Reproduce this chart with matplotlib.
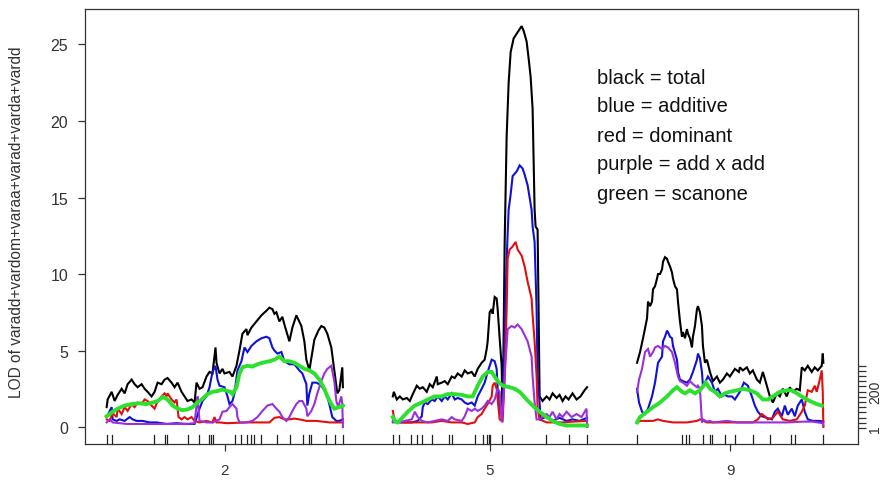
import matplotlib
matplotlib.use('Agg')
import matplotlib.pyplot as plt

plt.rcParams['font.family'] = ['Liberation Sans', 'DejaVu Sans']

# ---------------- data ----------------
chrom_names = ['2', '5', '9']
chrom_len = [118.3, 97.3, 93.3]
gap = 25.0

markers_2 = [0, 2.8, 23.6, 29.2, 30, 40.5, 46.2, 51.3, 52.2, 53.3, 64.2, 67.2, 70.5,
             72.5, 73.7, 77.2, 85.5, 91.7, 98.3, 101.3, 102.5, 110, 114.2, 118.3]
markers_5 = [0, 3.3, 9, 12, 14.8, 19.5, 28.2, 29.8, 41.2, 45.3, 47.3, 48.2, 48.7,
             54.8, 76.5, 88.2, 97.3]
markers_9 = [0, 22.5, 24.5, 25.8, 33, 36.3, 37.5, 43.8, 49.2, 58.3, 66.7, 77.2, 79.2, 93.3]

# chromosome 2  (position cM, LOD)
c2_total = [(0, 1.3), (0.5, 1.8), (2.5, 2.3), (4, 1.7), (5.5, 2.1), (7.5, 2.5), (9, 2.2), (10.5, 2.8),
            (12.5, 3.1), (14, 2.8), (15.5, 2.6), (17.5, 2.8), (19, 2.5), (20.5, 2.3), (22.5, 2.0),
            (24, 2.3), (25.5, 2.9), (27.5, 2.8), (29, 3.1), (30.5, 3.2), (32.5, 2.9), (34, 2.6),
            (35.5, 2.9), (37.5, 2.3), (39, 2.0), (40.5, 1.7), (42.5, 1.8), (44, 1.6), (45, 2.9),
            (46.5, 2.5), (48, 2.6), (50, 3.3), (51.5, 3.6), (53, 3.5), (54.5, 5.2), (55, 4.2),
            (56.5, 3.5), (58, 3.8), (59, 3.5), (61.5, 3.6), (63, 3.3), (65, 4.0), (66.5, 5.0),
            (68, 6.1), (70, 6.4), (70.5, 6.0), (72.5, 6.5), (75, 6.9), (77.5, 7.3), (80, 7.6),
            (81.5, 7.8), (83, 7.7), (84, 7.4), (85, 7.5), (86.5, 6.9), (88, 7.2), (89, 6.7),
            (91.5, 5.6), (93, 6.5), (95, 7.3), (97.5, 6.6), (99, 5.6), (100, 4.4), (101.5, 3.7),
            (104, 5.7), (106, 6.3), (107.5, 6.6), (109, 6.5), (110.5, 6.1), (112.5, 5.2),
            (114, 3.7), (115.5, 2.2), (116.5, 2.4), (118, 3.9), (118.3, 2.6)]
c2_add = [(0, 0.65), (2.5, 1.3), (3, 0.5), (5, 0.4), (6.5, 0.5), (9, 0.4), (11.5, 0.65), (13, 0.5),
          (15, 0.4), (18, 0.4), (21.5, 0.3), (25, 0.3), (30, 0.2), (35, 0.25), (40, 0.2), (44, 0.2),
          (46.5, 1.2), (48, 1.7), (50, 2.0), (51.5, 2.6), (53, 3.6), (54.5, 4.0), (55.5, 3.1),
          (56.5, 2.7), (59, 2.6), (60.5, 2.0), (61.5, 1.5), (63, 1.7), (64, 2.2), (65.5, 3.7),
          (67.5, 4.3), (69, 5.2), (70.5, 4.9), (72.5, 5.3), (75, 5.6), (77.5, 5.8), (80, 5.9),
          (81.5, 5.8), (83, 5.2), (84, 5.0), (85.5, 4.8), (87.5, 4.9), (89, 4.3), (91.5, 4.1),
          (94, 4.1), (96.5, 3.7), (98, 3.5), (100, 2.8), (100.5, 1.4), (101.5, 2.2), (103, 2.9),
          (105, 2.9), (106.5, 2.8), (108, 2.6), (110, 2.2), (111.5, 1.5), (113, 0.65), (115, 0.4),
          (116.5, 0.4), (118.3, 0.5)]
c2_dom = [(0, 0.5), (1.5, 0.4), (3, 0.9), (5, 0.65), (5.5, 1.2), (7.5, 0.85), (9, 1.3), (10.5, 1.05),
          (12.5, 1.5), (14, 1.3), (15.5, 1.6), (17.5, 1.5), (19, 1.8), (20.5, 1.7), (22.5, 1.4),
          (24, 1.2), (25.5, 1.7), (27.5, 2.0), (29, 2.2), (30, 2.0), (30.5, 2.2), (32.5, 1.8),
          (34, 1.6), (35, 1.8), (36, 0.65), (37.5, 0.5), (39, 0.65), (40.5, 0.5), (42.5, 0.65),
          (44, 0.4), (46.5, 0.3), (50, 0.4), (53, 0.3), (54, 0.65), (55, 0.3), (56.5, 0.3),
          (60, 0.25), (70, 0.3), (81.5, 0.3), (84, 0.6), (86.5, 0.65), (89, 0.5), (91.5, 0.5),
          (94, 0.55), (96.5, 0.5), (100, 0.4), (105, 0.4), (111.5, 0.3), (118.3, 0.3)]
c2_aa = [(0, 0.3), (1.5, 0.5), (3, 0.3), (10, 0.2), (20, 0.2), (30, 0.2), (40, 0.2), (44, 0.25),
         (45, 1.4), (45.5, 2.0), (46.5, 0.4), (50, 0.3), (53, 0.3), (56.5, 0.5), (58, 1.0),
         (60, 1.05), (61.5, 1.3), (63, 1.5), (65, 1.2), (65.5, 0.65), (66.5, 0.3), (70, 0.3),
         (73, 0.4), (75.5, 0.65), (78, 1.05), (80.5, 1.4), (83, 1.5), (85, 1.2), (86.5, 1.0),
         (88, 0.65), (90, 0.4), (91.5, 0.65), (93, 1.05), (95, 1.5), (96.5, 1.7), (98, 1.7),
         (100, 1.2), (100.5, 0.7), (102.5, 1.05), (104, 1.5), (105.5, 2.2), (107.5, 3.0),
         (109, 3.5), (110.5, 3.8), (112.5, 4.0), (114, 3.0), (115, 1.7), (116, 1.3), (117.5, 2.0),
         (118, 1.5), (118.3, 0.0)]
c2_scan = [(0, 0.7), (3, 1.0), (5.5, 1.2), (9, 1.4), (12.5, 1.5), (16.5, 1.55), (20, 1.5), (23, 1.6),
           (25.5, 1.7), (28, 1.95), (30, 1.85), (31.5, 1.65), (33, 1.4), (35.5, 1.2), (38, 1.1),
           (40.5, 1.15), (43, 1.3), (45.5, 1.6), (48, 1.85), (50.5, 2.15), (53, 2.3), (55.5, 2.35),
           (58, 2.45), (60.5, 2.35), (62, 2.3), (63, 2.15), (65, 2.6), (66.5, 3.5), (68, 3.9),
           (70.5, 4.0), (73, 3.95), (75.5, 4.1), (78, 4.2), (81.5, 4.3), (84, 4.4), (86.5, 4.6),
           (89, 4.3), (91.5, 4.3), (94, 4.2), (96.5, 4.0), (99, 3.8), (101.5, 3.7), (104, 3.5),
           (106.5, 3.1), (109, 2.5), (110.5, 2.0), (112.5, 1.5), (114, 1.2), (116.5, 1.3), (118.3, 1.4)]

# chromosome 5
c5_total = [(0, 2.0), (0.5, 2.3), (2, 1.8), (3.5, 2.0), (5, 1.8), (7, 1.9), (8.5, 1.7), (10, 2.15),
            (12, 2.7), (13.5, 2.5), (15, 2.6), (17, 2.3), (18.5, 2.8), (20, 2.6), (22, 3.3),
            (22.5, 2.8), (24.5, 2.9), (26, 3.0), (27.5, 2.8), (29.5, 3.3), (31, 3.2), (32.5, 3.5),
            (34.5, 3.3), (36, 3.7), (37.5, 3.5), (39.5, 3.6), (41, 3.3), (42.5, 3.8), (44.5, 4.2),
            (46, 4.4), (47, 5.1), (47.5, 5.6), (48.5, 7.5), (49.5, 7.7), (50, 7.4), (51, 8.5),
            (52, 8.4), (52.5, 7.7), (53.5, 5.8), (54.5, 4.0), (55, 1.0), (55.5, 6.0), (56, 12.0),
            (57, 19.0), (58, 22.5), (59, 24.5), (60.5, 25.4), (62, 25.7), (63.5, 26.0), (64.5, 26.2),
            (65.5, 25.9), (67, 25.2), (68, 24.1), (69, 22.9), (70, 20.8), (70.5, 17.5), (71, 14.2),
            (71.5, 13.1), (72.5, 12.9), (73, 7.7), (73.5, 2.0), (75, 1.7), (77, 2.0), (78.5, 1.8),
            (80, 2.2), (82, 1.9), (83.5, 2.1), (85, 1.7), (86.5, 2.0), (88, 1.8), (90, 2.2),
            (92, 1.8), (94, 2.0), (96, 2.4), (97.3, 2.6)]
c5_add = [(0, 0.4), (2.5, 0.3), (6, 0.3), (9.5, 0.3), (12.5, 0.4), (14.5, 0.7), (15, 1.3), (16, 1.6),
          (17.5, 1.5), (19.5, 1.8), (21, 1.7), (22.5, 2.0), (24.5, 1.7), (26, 2.0), (27.5, 1.8),
          (29.5, 2.2), (31, 1.8), (32.5, 1.9), (34.5, 1.8), (36, 1.6), (37.5, 1.5), (39.5, 1.6),
          (41, 1.4), (42.5, 2.0), (44.5, 2.5), (46, 2.9), (47.5, 3.6), (49.5, 4.4), (51, 4.3),
          (52, 3.8), (52.5, 2.5), (53.5, 1.0), (55, 1.0), (56, 6.4), (57, 11.0), (58, 14.2),
          (59, 15.2), (60, 16.4), (62, 16.7), (63.5, 17.1), (65, 16.9), (66, 16.5), (67.5, 15.8),
          (69.5, 14.2), (70, 13.1), (71, 12.1), (72, 7.7), (72.5, 3.3), (73.5, 1.6), (74, 0.5),
          (77, 0.7), (80, 0.4), (83.5, 0.6), (87, 0.4), (90, 0.5), (93.5, 0.4), (97.3, 0.6)]
c5_dom = [(0, 1.05), (0.5, 0.7), (1, 0.4), (4.5, 0.3), (9.5, 0.3), (14.5, 0.3), (19.5, 0.3),
          (24.5, 0.4), (29.5, 0.3), (34.5, 0.3), (37.5, 0.2), (41, 0.3), (42.5, 0.65), (44.5, 0.85),
          (46, 1.2), (47.5, 1.5), (49.5, 2.0), (50, 2.7), (51, 2.9), (52, 2.5), (52.5, 1.8),
          (53.5, 0.5), (55, 0.4), (56, 3.3), (57, 7.7), (57.5, 11.0), (58.5, 11.6), (60, 11.8),
          (61.5, 12.1), (62.5, 11.6), (64.5, 11.2), (66, 10.5), (67.5, 9.5), (69.5, 8.4), (70, 7.3),
          (71, 5.6), (72, 3.3), (72.5, 1.2), (73.5, 0.5), (77, 0.3), (85, 0.3), (90, 0.35), (97.3, 0.4)]
c5_aa = [(0, 0.3), (2.5, 0.3), (6, 0.4), (9.5, 0.5), (11, 1.0), (12.5, 0.65), (14.5, 0.4), (17.5, 0.3),
         (21, 0.4), (24.5, 0.5), (27.5, 0.4), (29.5, 0.65), (31, 0.5), (34.5, 0.4), (36, 0.7),
         (37.5, 1.2), (39.5, 1.05), (41, 1.2), (42.5, 1.05), (44.5, 1.2), (46, 1.4), (47.5, 1.7),
         (49.5, 1.5), (51, 1.8), (52.5, 2.5), (53.5, 2.3), (54.5, 0.3), (55.5, 2.0), (56.5, 4.4),
         (57.5, 6.4), (59.5, 6.6), (61, 6.5), (62.5, 6.7), (64.5, 6.4), (66, 6.0), (67.5, 5.6),
         (69.5, 4.6), (70, 3.3), (71, 1.6), (72, 0.5), (73.5, 0.5), (77, 0.85), (78.5, 0.65),
         (80, 1.0), (82, 0.5), (83.5, 0.85), (85, 0.65), (87, 1.0), (89.5, 0.65), (92, 0.85),
         (94.5, 0.65), (97, 1.2), (97.3, 0.0)]
c5_scan = [(0, 0.65), (1, 0.4), (2.5, 0.3), (5, 0.65), (7.5, 1.0), (11, 1.4), (14.5, 1.6), (17.5, 1.8),
           (21, 2.0), (24.5, 2.0), (27.5, 2.15), (31, 2.15), (34.5, 2.1), (37.5, 2.0), (40, 2.0),
           (42.5, 2.7), (45, 3.3), (47.5, 3.6), (49.5, 3.6), (51, 3.3), (52.5, 3.0), (55, 2.7),
           (58.5, 2.6), (61, 2.5), (63.5, 2.3), (67, 1.8), (70, 1.4), (73.5, 1.0), (77, 0.65),
           (80, 0.4), (83.5, 0.2), (87, 0.1), (92, 0.1), (97.3, 0.1)]

# chromosome 9
c9_total = [(0, 4.2), (1.5, 4.9), (3, 5.8), (5, 7.1), (5.5, 8.2), (6.5, 7.9), (7.5, 8.2), (8, 9.0),
            (9, 9.2), (10, 9.7), (10.5, 10.0), (11.5, 10.0), (12.5, 10.3), (13, 10.8), (14, 11.1),
            (15, 11.0), (15.5, 10.8), (16.5, 10.5), (17.5, 10.1), (18, 9.7), (19, 9.2), (20, 9.0),
            (20.5, 8.2), (21.5, 6.9), (22.5, 5.9), (23, 6.2), (24, 5.8), (25, 6.4), (25.5, 6.1),
            (26.5, 5.8), (27.5, 5.2), (28, 5.9), (29, 6.6), (30, 7.7), (30.5, 7.9), (31.5, 7.5),
            (32.5, 6.6), (33, 5.3), (34, 4.2), (35, 4.4), (36.5, 3.6), (38, 3.0), (40, 3.3),
            (41.5, 2.9), (43, 3.1), (45, 3.5), (46.5, 3.3), (48, 3.6), (49, 3.8), (51, 3.6),
            (51.5, 3.9), (53, 3.7), (55, 3.9), (56.5, 3.5), (58, 3.7), (60, 3.1), (61.5, 2.9),
            (63, 3.6), (65, 2.7), (66.5, 2.0), (68, 1.6), (70, 2.2), (71.5, 2.0), (73, 2.5),
            (75, 2.0), (76.5, 2.6), (78, 2.3), (80, 2.5), (81.5, 2.4), (82.5, 3.9), (84, 3.7),
            (85.5, 4.0), (87.5, 3.6), (89, 3.9), (90.5, 3.7), (92.5, 4.0), (93, 4.8), (93.3, 4.2)]
c9_add = [(0, 2.5), (1, 1.6), (2.5, 1.0), (4, 0.85), (5.5, 1.2), (7.5, 2.0), (9, 2.9), (10.5, 4.2),
          (12.5, 4.6), (13, 5.6), (14, 5.9), (15, 6.3), (15.5, 6.2), (16.5, 5.9), (17.5, 5.8),
          (18, 5.3), (20, 4.4), (20.5, 3.6), (21.5, 3.1), (23, 3.0), (25, 2.9), (26.5, 3.1),
          (28, 3.6), (30, 4.4), (30.5, 4.8), (31.5, 4.5), (32.5, 3.6), (33, 2.7), (34, 2.9),
          (35.5, 3.3), (37.5, 2.9), (39, 2.3), (40.5, 2.5), (42.5, 2.0), (44, 2.1), (45.5, 2.0),
          (47.5, 2.0), (49, 1.8), (51.5, 2.3), (53.5, 2.9), (55.5, 2.7), (57.5, 2.0), (59, 1.4),
          (60.5, 1.0), (62.5, 0.7), (65, 0.6), (67.5, 0.5), (69, 1.0), (70.5, 1.2), (72.5, 0.7),
          (74, 1.4), (75.5, 0.8), (77.5, 1.2), (79, 0.7), (80.5, 1.4), (82.5, 1.8), (84, 1.0),
          (85.5, 0.5), (88, 0.4), (91.5, 0.4), (93.3, 0.35)]
c9_dom = [(0, 0.3), (1.5, 0.4), (5, 0.4), (8, 0.4), (10.5, 0.5), (13, 0.4), (18, 0.3), (25, 0.3),
          (30, 0.4), (31.5, 0.5), (35, 0.3), (41.5, 0.3), (50, 0.3), (58, 0.3), (60.5, 0.5),
          (62.5, 0.85), (64, 0.7), (65.5, 0.5), (68, 0.6), (70.5, 1.0), (73, 0.5), (76.5, 0.4),
          (80, 0.5), (82.5, 1.0), (84, 1.4), (85.5, 2.4), (87.5, 2.3), (89, 2.7), (90, 2.3),
          (91.5, 3.1), (92.5, 3.7), (93, 2.3), (93.3, 0.0)]
c9_aa = [(0, 2.3), (1, 3.1), (2.5, 3.8), (4, 4.9), (5.5, 5.1), (6.5, 4.6), (8, 4.9), (9, 5.2),
         (10.5, 5.3), (12.5, 5.1), (14, 5.3), (15.5, 5.2), (17.5, 4.9), (19, 4.2), (20.5, 3.3),
         (21.5, 3.0), (23, 2.9), (25, 2.7), (26.5, 3.0), (28, 2.8), (30, 2.6), (30.5, 2.7),
         (31.5, 2.5), (32.5, 0.3), (33, 0.5), (35, 0.35), (36.5, 0.4), (38, 0.3), (45, 0.4),
         (50, 0.3), (58, 0.3), (66.5, 0.3), (75, 0.3), (83, 0.35), (88, 0.35), (93, 0.25), (93.3, 0.1)]
c9_scan = [(0, 0.3), (1.5, 0.65), (5, 1.0), (8, 1.3), (11.5, 1.6), (15, 2.0), (18, 2.4), (20, 2.6),
           (22.5, 2.3), (24, 2.2), (26.5, 2.4), (29, 2.2), (31.5, 2.4), (34.5, 2.9), (36.5, 2.5),
           (39, 2.3), (41.5, 2.0), (44, 2.2), (46.5, 2.3), (50, 2.4), (53, 2.5), (56.5, 2.4),
           (60, 2.2), (63, 1.8), (65.5, 1.8), (68, 2.0), (71.5, 2.3), (75, 2.4), (77.5, 2.4),
           (80, 2.2), (83, 1.95), (86.5, 1.7), (90, 1.5), (92.5, 1.4)]

legend_lines = ['black = total', 'blue = additive', 'red = dominant',
                'purple = add x add', 'green = scanone']
right_labels = ['1', '200']

# ---------------- plot ----------------
W, H = 886, 481
fig = plt.figure(figsize=(W / 100, H / 100), dpi=100)
L, R, T, B = 85, 858, 10, 445
ax = fig.add_axes([L / W, 1 - B / H, (R - L) / W, (B - T) / H])

offsets = []
acc = 0.0
for ln in chrom_len:
    offsets.append(acc)
    acc += ln + gap

series = [
    ([c2_total, c5_total, c9_total], '#000000', 1.5),
    ([c2_add, c5_add, c9_add], '#1010d8', 1.5),
    ([c2_dom, c5_dom, c9_dom], '#e01010', 1.5),
    ([c2_aa, c5_aa, c9_aa], '#9a30dc', 1.5),
    ([c2_scan, c5_scan, c9_scan], '#2ee02e', 2.8),
]
for per_chr, col, lw in series:
    for off, pts in zip(offsets, per_chr):
        xs = [off + p[0] for p in pts]
        ys = [p[1] for p in pts]
        ax.plot(xs, ys, color=col, lw=lw, solid_joinstyle='miter')

# marker rug
trans = ax.get_xaxis_transform()
for off, mk in zip(offsets, [markers_2, markers_5, markers_9]):
    for m in mk:
        ax.plot([off + m, off + m], [0.0, 0.021], color='#222222', lw=0.9, transform=trans,
                clip_on=False)

ax.set_xlim(-10.85, offsets[2] + chrom_len[2] + 17.35)
ax.set_ylim(-1.11, 27.32)

centers = [off + ln / 2 for off, ln in zip(offsets, chrom_len)]
ax.set_xticks(centers)
ax.set_xticklabels(chrom_names)
ax.set_yticks([0, 5, 10, 15, 20, 25])
ax.tick_params(axis='both', direction='out', length=5, width=0.9, colors='#333333',
               labelsize=11.5, labelcolor='#333333')
ax.tick_params(axis='x', pad=9, labelsize=11)
ax.tick_params(axis='y', pad=7)
for s in ax.spines.values():
    s.set_color('#333333')
    s.set_linewidth(0.9)

fig.text(17 / W, 1 - 222 / H, 'LOD of varadd+vardom+varaa+varad+varda+vardd', rotation=90,
         ha='center', va='center', fontsize=11.2, color='#333333')

# legend text
for i, t in enumerate(legend_lines):
    fig.text(597 / W, 1 - (78 + 29 * i) / H, t, ha='left', va='center', fontsize=14.5,
             color='#111111')

# right-hand secondary axis
ax2 = ax.twinx()
ax2.set_ylim(ax.get_ylim())
rt = [4.0, 3.66, 3.33, 2.99, 2.65, 2.31, 1.97, 1.63, 1.30, 0.96, 0.62, 0.29, -0.05]
ax2.set_yticks(rt)
lab = [''] * len(rt)
lab[5] = right_labels[1]
lab[-1] = right_labels[0]
ax2.set_yticklabels(lab, rotation=90, va='center')
ax2.tick_params(axis='y', direction='out', length=6, width=0.9, colors='#333333',
                labelsize=10, labelcolor='#333333', pad=1.5)
for s in ax2.spines.values():
    s.set_visible(False)

fig.savefig('out.png', dpi=100)
